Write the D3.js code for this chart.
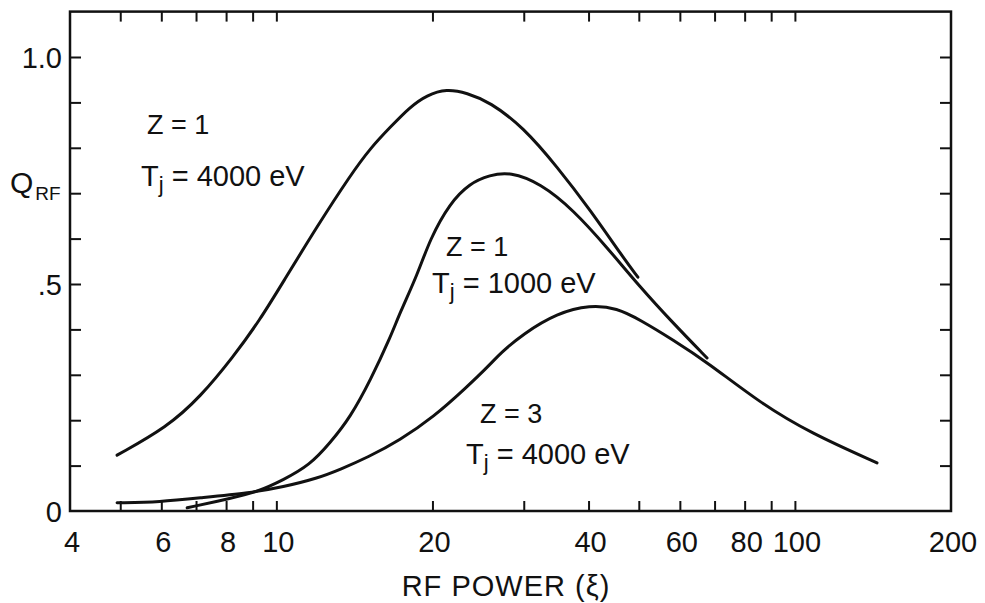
<!DOCTYPE html>
<html>
<head>
<meta charset="utf-8">
<script src="https://cdn.jsdelivr.net/npm/d3@7"></script>
<style>
  body { margin: 0; background: #fff; }
  text { font-family: "Liberation Sans", Arial, sans-serif; fill: #111; }
</style>
</head>
<body>
<script>
// size of page
var w = 985;
var h = 603;

// curve Z=1, Tj=4000 eV
var powerA = [4.93, 6.16, 7.13, 8.25, 9.30, 10.3, 12.0, 13.9, 15.2, 16.6, 18.1, 19.5, 21.3, 23.3, 25.8, 29.9, 34.8, 40.3, 46.6, 49.8];
var qA     = [0.123, 0.185, 0.251, 0.339, 0.421, 0.504, 0.628, 0.740, 0.800, 0.846, 0.890, 0.916, 0.930, 0.921, 0.901, 0.846, 0.758, 0.663, 0.559, 0.515];

// curve Z=1, Tj=1000 eV
var powerB = [6.73, 8.25, 9.18, 10.3, 11.6, 12.7, 13.9, 15.2, 16.6, 17.3, 18.7, 19.8, 21.6, 23.6, 25.8, 28.2, 32.3, 37.4, 43.4, 50.3, 58.2, 67.7];
var qB     = [0.007, 0.029, 0.042, 0.068, 0.101, 0.150, 0.207, 0.289, 0.383, 0.436, 0.520, 0.600, 0.678, 0.722, 0.740, 0.747, 0.722, 0.663, 0.581, 0.493, 0.414, 0.337];

// curve Z=3, Tj=4000 eV
var powerC = [4.93, 5.97, 7.13, 8.90, 10.3, 12.0, 13.3, 15.0, 17.3, 20.1, 23.3, 25.8, 27.0, 29.9, 34.8, 40.3, 45.4, 50.3, 58.2, 67.7, 85.7, 107, 144];
var qC     = [0.018, 0.020, 0.029, 0.040, 0.053, 0.072, 0.092, 0.118, 0.156, 0.207, 0.273, 0.322, 0.347, 0.390, 0.436, 0.454, 0.447, 0.421, 0.377, 0.328, 0.238, 0.172, 0.106];

// ticks and labels
var xTicks = [5, 6, 7, 8, 9, 10, 20, 30, 40, 50, 60, 70, 80, 90, 100];
var xLabels = [4, 6, 8, 10, 20, 40, 60, 80, 100, 200];
var yTicks = [0.1, 0.2, 0.3, 0.4, 0.5, 0.6, 0.7, 0.8, 0.9, 1.0];
var yLabels = [0, 0.5, 1.0];
var yLabelText = ["0", ".5", "1.0"];

var svg = d3.select("body")
  .append("svg")
  .attr("width", w)
  .attr("height", h);

var x = d3.scaleLog().domain([4, 200]).range([70, 951]);
var y = d3.scaleLinear().domain([0, 1.1]).range([511, 11.6]);

// frame
svg.append("rect")
  .attr("x", x(4))
  .attr("y", y(1.1))
  .attr("width", x(200) - x(4))
  .attr("height", y(0) - y(1.1))
  .attr("fill", "none")
  .attr("stroke", "#111")
  .attr("stroke-width", 2.5);

// inward ticks on all four sides
function noLabels(g) {
  g.select(".domain").remove();
  g.selectAll(".tick line").attr("stroke", "#111").attr("stroke-width", 2);
  g.selectAll(".tick text").remove();
}
svg.append("g").attr("transform", "translate(0," + y(0) + ")")
  .call(d3.axisBottom(x).tickValues(xTicks).tickSize(-10)).call(noLabels);
svg.append("g").attr("transform", "translate(0," + y(1.1) + ")")
  .call(d3.axisTop(x).tickValues(xTicks).tickSize(-10)).call(noLabels);
svg.append("g").attr("transform", "translate(" + x(4) + ",0)")
  .call(d3.axisLeft(y).tickValues(yTicks).tickSize(-11)).call(noLabels);
svg.append("g").attr("transform", "translate(" + x(200) + ",0)")
  .call(d3.axisRight(y).tickValues(yTicks).tickSize(-11)).call(noLabels);

// tick labels
svg.selectAll("text.xl")
  .data(xLabels)
  .enter()
  .append("text")
  .attr("class", "xl")
  .text(function(d) { return d; })
  .attr("x", function(d) { return x(d) + 2; })
  .attr("y", 552)
  .attr("font-size", "29px")
  .attr("text-anchor", "middle");

svg.selectAll("text.yl")
  .data(yLabels)
  .enter()
  .append("text")
  .attr("class", "yl")
  .text(function(d, i) { return yLabelText[i]; })
  .attr("x", 62)
  .attr("y", function(d) { return y(d) + 11; })
  .attr("font-size", "29px")
  .attr("text-anchor", "end");

// curves (smoothed, hand-drawn look)
var line = d3.line()
  .x(function(d) { return x(d[0]); })
  .y(function(d) { return y(d[1]); })
  .curve(d3.curveBasis);

[[powerA, qA], [powerB, qB], [powerC, qC]].forEach(function(s) {
  svg.append("path")
    .datum(d3.zip(s[0], s[1]))
    .attr("d", line)
    .attr("fill", "none")
    .attr("stroke", "#111")
    .attr("stroke-width", 3)
    .attr("stroke-linecap", "round");
});

// axis titles
var ql = svg.append("text").attr("x", 10).attr("y", 193).attr("font-size", "30px");
ql.append("tspan").text("Q");
ql.append("tspan").text("RF").attr("font-size", "19px").attr("dx", 2).attr("dy", 7);

svg.append("text")
  .text("RF POWER (\u03BE)")
  .attr("x", 506)
  .attr("y", 596)
  .attr("font-size", "29px")
  .attr("letter-spacing", "1px")
  .attr("text-anchor", "middle");

// curve labels
function curveLabel(zx, zy, z, tx, ty, t) {
  svg.append("text").text("Z = " + z).attr("x", zx).attr("y", zy).attr("font-size", "27px");
  var tt = svg.append("text").attr("x", tx).attr("y", ty).attr("font-size", "29px");
  tt.append("tspan").text("T");
  tt.append("tspan").text("j").attr("font-size", "22px").attr("dy", 6);
  tt.append("tspan").text(" = " + t + " eV").attr("dy", -6);
}
curveLabel(147, 134, 1, 141, 186, 4000);
curveLabel(446, 256, 1, 432, 293, 1000);
curveLabel(480, 423, 3, 466, 464, 4000);
</script>
</body>
</html>
